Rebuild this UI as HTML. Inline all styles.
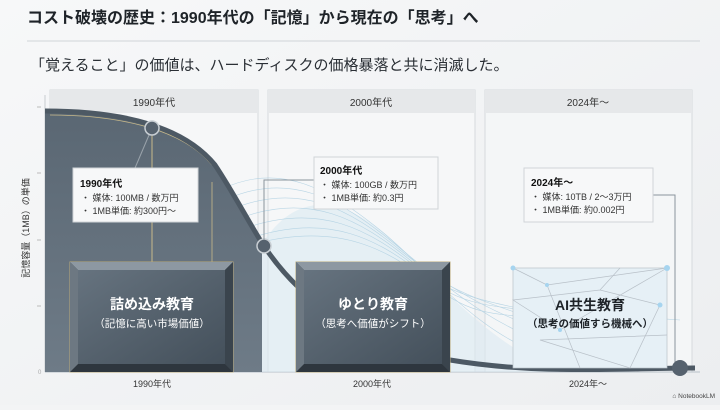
<!DOCTYPE html>
<html><head><meta charset="utf-8"><style>
body{margin:0;width:720px;height:405px;overflow:hidden;background:#f3f4f5;font-family:"Liberation Sans","Noto Sans CJK JP",sans-serif}
</style></head><body>
<svg width="720" height="405" viewBox="0 0 720 405" xmlns="http://www.w3.org/2000/svg" font-family="Liberation Sans, Noto Sans CJK JP, sans-serif">
<defs>
<linearGradient id="bg" x1="0" y1="0" x2="1" y2="1"><stop offset="0" stop-color="#f7f8f9"/><stop offset="1" stop-color="#eceef0"/></linearGradient>
<linearGradient id="dk" x1="0" y1="0" x2="0" y2="1"><stop offset="0" stop-color="#5a6773"/><stop offset="1" stop-color="#6e7b87"/></linearGradient>
<linearGradient id="bx" x1="0" y1="0" x2="1" y2="1"><stop offset="0" stop-color="#66737f"/><stop offset="1" stop-color="#44505b"/></linearGradient>
</defs>
<rect width="720" height="405" fill="url(#bg)"/>
<text x="27" y="23" font-size="16" font-weight="bold" fill="#1e2328">コスト破壊の歴史：1990年代の「記憶」から現在の「思考」へ</text>
<line x1="27" y1="41" x2="700" y2="41" stroke="#d0d4d8" stroke-width="1"/>
<text x="30" y="70" font-size="15" fill="#2a2f35">「覚えること」の価値は、ハードディスクの価格暴落と共に消滅した。</text>
<rect x="50" y="90" width="208" height="282" fill="#f6f7f8" stroke="#d6dadd"/>
<rect x="268" y="90" width="207" height="282" fill="#f6f7f8" stroke="#d6dadd"/>
<rect x="485" y="90" width="207" height="282" fill="#f4f6f7" stroke="#d6dadd"/>
<rect x="50" y="90" width="208" height="23" fill="#e6e8ea"/>
<rect x="268" y="90" width="207" height="23" fill="#e6e8ea"/>
<rect x="485" y="90" width="207" height="23" fill="#e6e8ea"/>
<text x="154" y="106" font-size="10" text-anchor="middle" fill="#333">1990年代</text>
<text x="371" y="106" font-size="10" text-anchor="middle" fill="#333">2000年代</text>
<text x="588" y="106" font-size="10" text-anchor="middle" fill="#333">2024年〜</text>
<line x1="45" y1="95" x2="45" y2="372" stroke="#c8ccd0"/>
<line x1="45" y1="372" x2="700" y2="372" stroke="#b8c0c8"/>
<g stroke="#bbb"><line x1="37" y1="107" x2="41" y2="107"/><line x1="37" y1="173" x2="41" y2="173"/><line x1="37" y1="240" x2="41" y2="240"/><line x1="37" y1="306" x2="41" y2="306"/></g>
<text x="38" y="374" font-size="6" fill="#aaa">0</text>
<text transform="translate(29,228) rotate(-90)" font-size="9" text-anchor="middle" fill="#333">記憶容量（1MB）の単価</text>
<path d="M262,244 C290,200 330,190 380,230 S480,340 560,372 L262,372 Z" fill="#dbe9f1" opacity="0.6"/>
<g fill="none" stroke="#a9cde0" stroke-width="0.6" opacity="0.8">
<path d="M220,190 C280,160 330,190 380,230 S480,340 560,360"/>
<path d="M225,200 C290,170 340,200 390,240 S490,330 580,355"/>
<path d="M230,210 C300,180 350,210 400,250 S500,320 600,350"/>
<path d="M235,220 C310,190 360,220 410,260 S510,310 620,345"/>
<path d="M240,230 C320,200 370,230 420,270 S520,300 640,340"/>
<path d="M245,240 C330,210 380,240 430,280 S530,300 660,330"/>
<path d="M250,245 C340,220 390,250 440,290 S540,310 680,320"/>
</g>
<path d="M45,111 C110,111 180,122 215,165 C235,195 250,225 262,244 L262,372 L45,372 Z" fill="url(#dk)"/>
<line x1="152" y1="128" x2="152" y2="262" stroke="#c8b98a" stroke-width="1"/>
<line x1="212" y1="182" x2="212" y2="262" stroke="#c8b98a" stroke-width="0.8"/>
<path d="M50,115 C110,115 180,126 212,165" fill="none" stroke="#c8b98a" stroke-width="0.8"/>
<path d="M45,111 C110,111 180,122 215,165 C235,195 250,225 264,246 C300,300 360,345 450,360 S620,368 695,368" fill="none" stroke="#4d5964" stroke-width="5"/>
<line x1="152" y1="128" x2="135" y2="168" stroke="#9aa3ab"/>
<circle cx="152" cy="128" r="7" fill="#56626e" stroke="#c9cfd4" stroke-width="1.5"/>
<circle cx="264" cy="246" r="7" fill="#56626e" stroke="#c9cfd4" stroke-width="1.5"/>
<polyline points="314,180 264,180 264,240" fill="none" stroke="#8a949c"/>
<polyline points="653,195 675,195 675,362" fill="none" stroke="#8a949c"/>
<!-- box 1 -->
<rect x="70" y="262" width="163" height="110" fill="#3c464f" stroke="#b9a97a"/>
<polygon points="70,262 233,262 225,270 78,270" fill="#8d98a2"/>
<polygon points="70,372 233,372 225,364 78,364" fill="#2e363e"/>
<polygon points="70,262 78,270 78,364 70,372" fill="#6d7882"/>
<polygon points="233,262 225,270 225,364 233,372" fill="#3a444d"/>
<rect x="78" y="270" width="147" height="94" fill="url(#bx)"/>
<text x="152" y="309" font-size="14" font-weight="bold" text-anchor="middle" fill="#fff">詰め込み教育</text>
<text x="152" y="327" font-size="10.5" text-anchor="middle" fill="#fff">（記憶に高い市場価値）</text>
<!-- box 2 -->
<rect x="296" y="262" width="154" height="110" fill="#3c464f" stroke="#b9a97a"/>
<polygon points="296,262 450,262 442,270 304,270" fill="#8d98a2"/>
<polygon points="296,372 450,372 442,364 304,364" fill="#2e363e"/>
<polygon points="296,262 304,270 304,364 296,372" fill="#6d7882"/>
<polygon points="450,262 442,270 442,364 450,372" fill="#3a444d"/>
<rect x="304" y="270" width="138" height="94" fill="url(#bx)"/>
<text x="373" y="309" font-size="14" font-weight="bold" text-anchor="middle" fill="#fff">ゆとり教育</text>
<text x="373" y="327" font-size="10.5" text-anchor="middle" fill="#fff">（思考へ価値がシフト）</text>
<g stroke="#b8c0c8" stroke-width="0.7" fill="none">
<rect x="513" y="268" width="154" height="100" fill="#e6f0f6"/>
<path d="M513,268 L547,285 L667,268 L560,330 L513,300 L600,290 L660,305 L630,368 L540,340 L667,335 M547,285 L580,368 M600,290 L620,268"/>
</g>
<g fill="#a6d4ef"><circle cx="513" cy="268" r="2.5"/><circle cx="667" cy="268" r="3"/><circle cx="547" cy="285" r="2"/><circle cx="660" cy="305" r="2.5"/><circle cx="560" cy="330" r="2"/></g>
<text x="590" y="310" font-size="14" font-weight="bold" text-anchor="middle" fill="#1e2328">AI共生教育</text>
<text x="590" y="327" font-size="10.5" font-weight="bold" text-anchor="middle" fill="#1e2328">（思考の価値すら機械へ）</text>
<circle cx="680" cy="368" r="8" fill="#56626e"/>
<rect x="73" y="168" width="125" height="54" fill="#f7f8f9" stroke="#d0d4d8"/>
<text x="80" y="187" font-size="10" font-weight="bold" fill="#111">1990年代</text>
<text x="81" y="201" font-size="9" fill="#333">・ 媒体: 100MB / 数万円</text>
<text x="81" y="214" font-size="9" fill="#333">・ 1MB単価: 約300円〜</text>
<rect x="314" y="157" width="124" height="52" fill="#f7f8f9" stroke="#d0d4d8"/>
<text x="320" y="174" font-size="10" font-weight="bold" fill="#111">2000年代</text>
<text x="320" y="188" font-size="9" fill="#333">・ 媒体: 100GB / 数万円</text>
<text x="320" y="201" font-size="9" fill="#333">・ 1MB単価: 約0.3円</text>
<rect x="524" y="168" width="129" height="54" fill="#f7f8f9" stroke="#d0d4d8"/>
<text x="531" y="186" font-size="10" font-weight="bold" fill="#111">2024年〜</text>
<text x="531" y="200" font-size="9" fill="#333">・ 媒体: 10TB / 2〜3万円</text>
<text x="531" y="213" font-size="9" fill="#333">・ 1MB単価: 約0.002円</text>
<text x="152" y="387" font-size="9" text-anchor="middle" fill="#333">1990年代</text>
<text x="372" y="387" font-size="9" text-anchor="middle" fill="#333">2000年代</text>
<text x="588" y="387" font-size="9" text-anchor="middle" fill="#333">2024年〜</text>
<text x="715" y="398" font-size="6.5" text-anchor="end" fill="#444">⌂ NotebookLM</text>
</svg>
</body></html>
